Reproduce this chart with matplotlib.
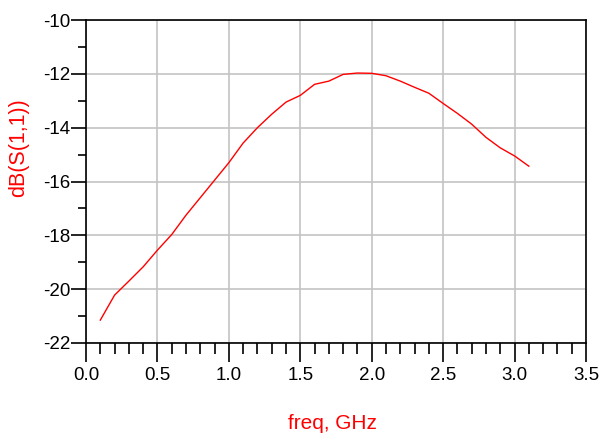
import matplotlib.pyplot as plt
from matplotlib.ticker import MultipleLocator, FuncFormatter

freq = [0.1, 0.2, 0.3, 0.4, 0.5, 0.6, 0.7, 0.8, 0.9, 1.0, 1.1, 1.2, 1.3, 1.4, 1.5, 1.6,
        1.7, 1.8, 1.9, 2.0, 2.1, 2.2, 2.3, 2.4, 2.5, 2.6, 2.7, 2.8, 2.9, 3.0, 3.1]
s11_db = [-21.15, -20.22, -19.7, -19.17, -18.55, -17.97, -17.25, -16.6, -15.95, -15.3,
          -14.57, -14.0, -13.5, -13.05, -12.8, -12.39, -12.27, -12.02, -11.97, -11.98,
          -12.07, -12.27, -12.5, -12.72, -13.1, -13.47, -13.87, -14.36, -14.75, -15.05, -15.43]

plt.rcParams['font.family'] = ['Liberation Sans', 'DejaVu Sans']

fig = plt.figure(figsize=(6.02, 4.38), dpi=100)
ax = fig.add_axes([0.1429, 0.2169, 0.8305, 0.7374])

ax.plot(freq, s11_db, color='red', lw=1.0)

ax.set_xlim(0, 3.5)
ax.set_ylim(-22, -10)
ax.xaxis.set_major_locator(MultipleLocator(0.5))
ax.xaxis.set_minor_locator(MultipleLocator(0.1))
ax.yaxis.set_major_locator(MultipleLocator(2))
ax.yaxis.set_minor_locator(MultipleLocator(1))
ax.xaxis.set_major_formatter(FuncFormatter(lambda v, p: f'{v:.1f}'))
ax.yaxis.set_major_formatter(FuncFormatter(lambda v, p: f'{v:.0f}'))

ax.grid(True, which='major', color='#c4c4c4', lw=1.2)
ax.tick_params(axis='x', which='major', direction='out', length=14, width=1.2, labelsize=13.5, pad=3)
ax.tick_params(axis='x', which='minor', direction='out', length=8, width=1.2)
ax.tick_params(axis='y', which='major', direction='out', length=11, width=1.2, labelsize=13.5, pad=0)
ax.tick_params(axis='y', which='minor', direction='out', length=6, width=1.2)
for s in ax.spines.values():
    s.set_linewidth(1.2)

fig.text(0.5515, 0.032, 'freq, GHz', color='red', fontsize=15, ha='center', va='center')
fig.text(0.031, 0.662, 'dB(S(1,1))', color='red', fontsize=15.5, ha='center', va='center',
         rotation=90)

fig.savefig('out.png', dpi=100)
